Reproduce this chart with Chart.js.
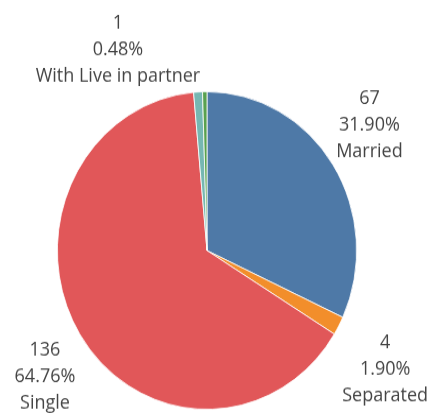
<!DOCTYPE html>
<html>
<head>
<meta charset="utf-8">
<script src="https://cdn.jsdelivr.net/npm/chart.js@4"></script>
<style>
    html, body { margin: 0; padding: 0; background: #fff; }
    #maritalPie { display: block; }
</style>
</head>
<body>
<canvas id="maritalPie" width="433" height="390" style="width:433px;height:414px"></canvas>
<script>
// Marital status
const statusLabels = ["Married", "Separated", "Single", "Widowed", "With Live in partner"];
const statusCounts = [67, 4, 136, 2, 1];
const statusColors = ["#4e79a7", "#f28e2b", "#e15759", "#76b7b2", "#59a14f"];

// label nudges (px) from the radial anchor; slices without one are not labelled
const labelNudge = {
    "Married": [-10, -8],
    "Separated": [-2, 15],
    "Single": [12, 11],
    "With Live in partner": [-86, 15],
};

const total = statusCounts.reduce((a, b) => a + b, 0);

const sliceLabels = {
    id: "sliceLabels",
    afterDatasetsDraw(chart) {
        const ctx = chart.ctx;
        const meta = chart.getDatasetMeta(0);
        ctx.save();
        ctx.font = "18px 'Open Sans'";
        ctx.fillStyle = "#444";
        ctx.textAlign = "center";
        ctx.textBaseline = "middle";
        meta.data.forEach((arc, i) => {
            const nudge = labelNudge[statusLabels[i]];
            if (!nudge) return;
            const mid = (arc.startAngle + arc.endAngle) / 2;
            const dist = arc.outerRadius + 55;
            const x = arc.x + Math.cos(mid) * dist + nudge[0];
            const y = arc.y + Math.sin(mid) * dist + nudge[1];
            const pct = (statusCounts[i] / total * 100).toFixed(2) + "%";
            const lines = [String(statusCounts[i]), pct, statusLabels[i]];
            lines.forEach((t, k) => ctx.fillText(t, x, y + (k - 1) * 25));
        });
        ctx.restore();
    }
};

const pieConfig = {
    type: "pie",
    data: {
        labels: statusLabels,
        datasets: [{
            data: statusCounts,
            backgroundColor: statusColors,
            borderColor: "#ffffff",
            borderWidth: 0.8,
        }],
    },
    options: {
        responsive: false,
        animation: false,
        devicePixelRatio: 1,
        layout: { padding: { left: 57, right: 76, top: 86, bottom: 4 } },
        plugins: {
            legend: { display: false },
            tooltip: { enabled: false },
        },
    },
    plugins: [sliceLabels],
};
const maritalPie = new Chart(
    document.getElementById("maritalPie"),
    pieConfig
);
</script>
</body>
</html>
